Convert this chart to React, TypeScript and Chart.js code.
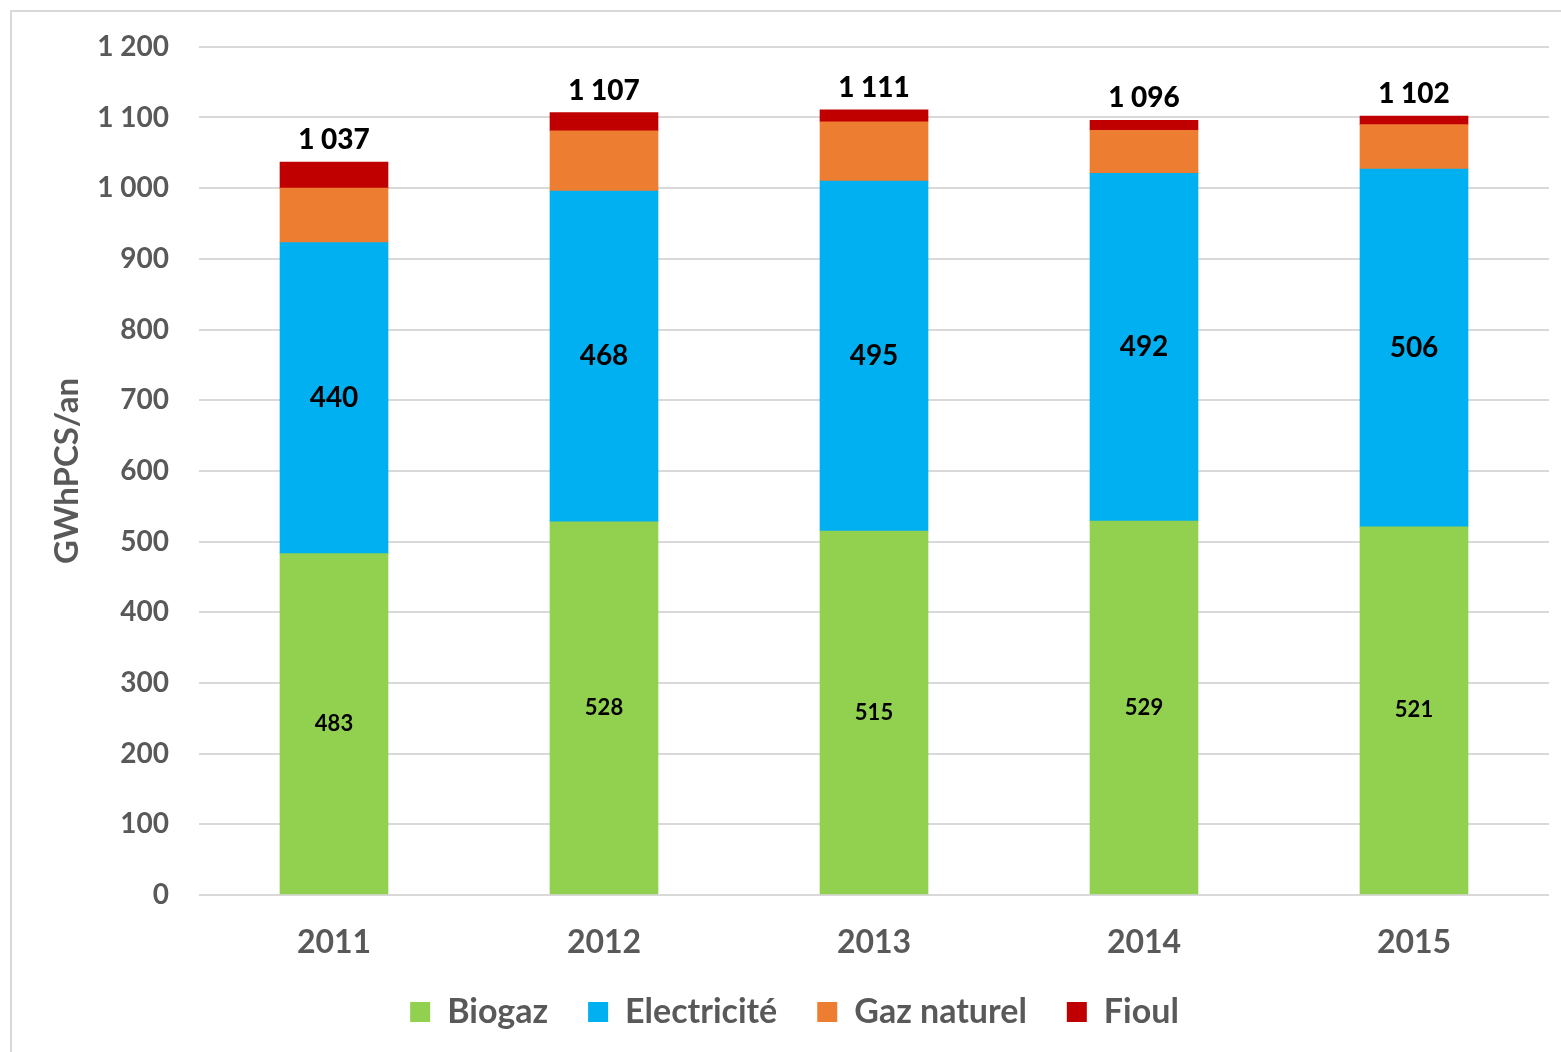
import React, { useEffect, useRef } from 'react';
import { Chart, registerables } from 'chart.js';

Chart.register(...registerables);

const years = ['2011', '2012', '2013', '2014', '2015'];
const biogaz = [483, 528, 515, 529, 521];
const electricite = [440, 468, 495, 492, 506];
const gazNaturel = [77, 85, 84, 61, 63];
const fioul = [37, 26, 17, 14, 12];
const totals = [1037, 1107, 1111, 1096, 1102];
const seriesNames = ['Biogaz', 'Electricité', 'Gaz naturel', 'Fioul'];
const seriesColors = ['#92D050', '#00B0F0', '#ED7D31', '#C00000'];
const yMin = 0;
const yMax = 1200;
const yStep = 100;
const yTitle = 'GWhPCS/an';

const FONT = 'Lato, "Open Sans", sans-serif';

const fmt = (v: number) => {
  const s = String(Math.round(v));
  return s.replace(/\B(?=(\d{3})+(?!\d))/g, ' ');
};

const labelPlugin = {
  id: 'labelPlugin',
  afterDatasetsDraw(chart: any) {
    const ctx = chart.ctx;
    ctx.save();
    ctx.fillStyle = '#000000';
    ctx.textAlign = 'center';
    ctx.textBaseline = 'middle';
    const sizes = [22, 28];
    [0, 1].forEach((di) => {
      const meta = chart.getDatasetMeta(di);
      ctx.font = `bold ${sizes[di]}px ${FONT}`;
      meta.data.forEach((bar: any, i: number) => {
        const yc = (bar.y + bar.base) / 2;
        ctx.fillText(fmt(chart.data.datasets[di].data[i]), bar.x, yc);
      });
    });
    const last = chart.getDatasetMeta(3);
    ctx.font = `900 28px ${FONT}`;
    ctx.textBaseline = 'alphabetic';
    last.data.forEach((bar: any, i: number) => {
      const y = chart.scales.y.getPixelForValue(totals[i]);
      ctx.fillText(fmt(totals[i]), bar.x, y - 13);
    });
    ctx.restore();
  },
};

export default function App() {
  const ref = useRef<HTMLCanvasElement | null>(null);
  useEffect(() => {
    if (!ref.current) return;
    const data = [biogaz, electricite, gazNaturel, fioul];
    const chart = new Chart(ref.current, {
      type: 'bar',
      data: {
        labels: years,
        datasets: data.map((d, i) => ({
          label: seriesNames[i],
          data: d,
          backgroundColor: seriesColors[i],
          borderWidth: 0,
          barThickness: 108,
        })),
      },
      options: {
        animation: false,
        responsive: true,
        maintainAspectRatio: false,
        layout: { padding: { left: 40, right: 12, top: 40, bottom: 13 } },
        plugins: {
          legend: {
            position: 'bottom',
            labels: {
              font: { family: FONT, size: 34, weight: 'bold' },
              color: '#595959',
              boxWidth: 20,
              boxHeight: 20,
              padding: 40,
            },
          },
          tooltip: { enabled: false },
        },
        scales: {
          x: {
            stacked: true,
            grid: { display: false, drawTicks: false },
            border: { display: false },
            ticks: {
              font: { family: FONT, size: 32, weight: 'bold' },
              color: '#595959',
              padding: 28,
            },
            afterFit: (scale: any) => {
              scale.height = 60;
            },
          },
          y: {
            stacked: true,
            min: yMin,
            max: yMax,
            grid: { color: '#D9D9D9', lineWidth: 2, drawTicks: false },
            border: { display: false },
            ticks: {
              stepSize: yStep,
              font: { family: FONT, size: 28, weight: 'bold' },
              color: '#595959',
              padding: 30,
              callback: (v: any) => fmt(Number(v)),
            },
            title: {
              display: true,
              text: yTitle,
              font: { family: FONT, size: 33, weight: 'bold' },
              color: '#595959',
              padding: { top: 8, bottom: 0 },
            },
            afterFit: (scale: any) => {
              scale.width = 159;
            },
          },
        },
      },
      plugins: [labelPlugin],
    });
    return () => chart.destroy();
  }, []);

  return (
    <div style={{ position: 'absolute', left: 0, top: 0, width: 1561, height: 1052, background: '#fff' }}>
      <div
        style={{
          position: 'absolute',
          left: 10,
          top: 10,
          width: 1560,
          height: 1050,
          border: '2px solid #D9D9D9',
          boxSizing: 'border-box',
        }}
      />
      <div style={{ position: 'absolute', left: 0, top: 0, width: 1561, height: 1052 }}>
        <canvas ref={ref} />
      </div>
    </div>
  );
}
